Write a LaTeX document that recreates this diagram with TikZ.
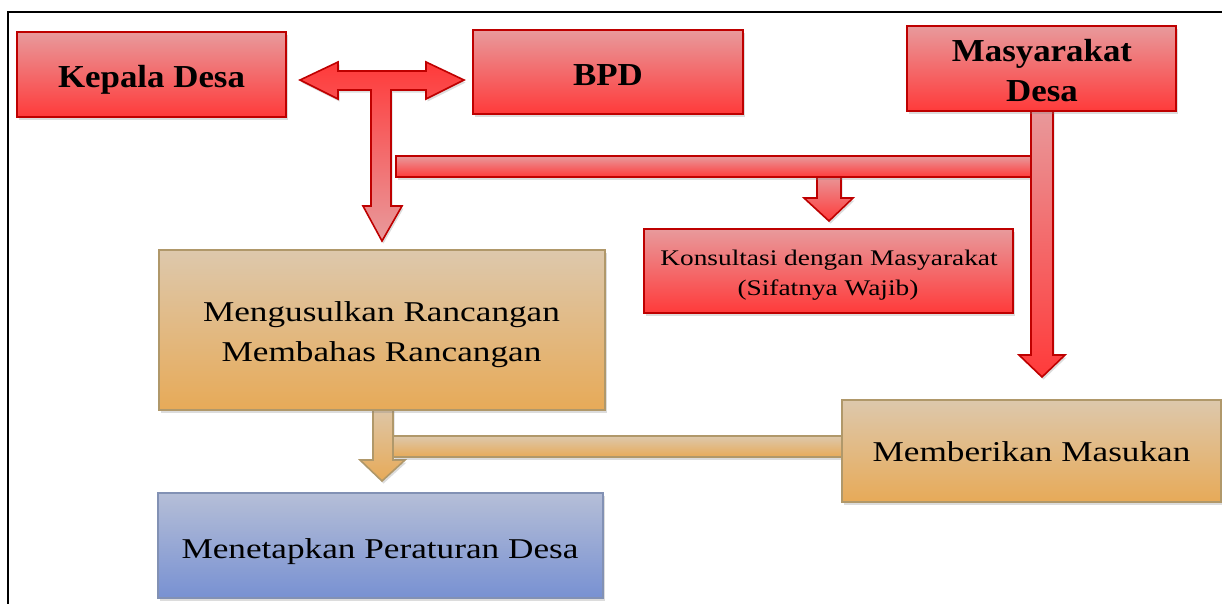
\documentclass[tikz,border=0pt]{standalone}
\usepackage{fontspec}
\setmainfont{Liberation Serif}[FakeStretch=1.227]
\newfontfamily\hdfont{Liberation Serif}[FakeStretch=1.09]
\usetikzlibrary{shadows}
\definecolor{rtop}{RGB}{232,154,156}
\definecolor{rbot}{RGB}{255,58,58}
\definecolor{rline}{RGB}{190,0,0}
\definecolor{ttop}{RGB}{221,200,172}
\definecolor{tbot}{RGB}{231,170,88}
\definecolor{tline}{RGB}{176,152,106}
\definecolor{btop}{RGB}{181,190,215}
\definecolor{bbot}{RGB}{120,145,210}
\definecolor{bline}{RGB}{130,145,180}
\begin{document}
\begin{tikzpicture}[x=1pt,y=-1pt,
 shad/.style={drop shadow={opacity=0.28,shadow xshift=1.5pt,shadow yshift=-2.5pt}},
 boxbase/.style={line width=1.6pt,shad,inner sep=0pt},
 redbox/.style={boxbase,draw=rline,top color=rtop,bottom color=rbot},
 tanbox/.style={boxbase,draw=tline,top color=ttop,bottom color=tbot},
 bluebox/.style={boxbase,draw=bline,top color=btop,bottom color=bbot},
 txt/.style={anchor=base,inner sep=0pt},
 hd/.style={txt,font=\hdfont\bfseries\fontsize{32}{39.5}\selectfont},
 bd/.style={txt,font=\fontsize{28.7}{40}\selectfont},
 sm/.style={txt,font=\fontsize{22.3}{30}\selectfont},
 redarrow/.style={draw=rline,line width=1.6pt,line join=miter,shad},
 tanarrow/.style={draw=tline,line width=1.6pt,line join=miter,shad,top color=ttop,bottom color=tbot},
]
\useasboundingbox (0,0) rectangle (1222,603);
\begin{scope}
\clip (0,0) rectangle (1222,603);
\draw[line width=1.6pt] (8,12) rectangle (1240,640);
\end{scope}

% T-shaped double arrow (Kepala Desa <-> BPD, down)
\coordinate (tL) at (300,80);
\coordinate (tR) at (464,80);
\coordinate (tD) at (382,241);
\draw[redarrow,top color=rbot,bottom color=rtop] (tL) -- (338,62) -- (338,71) -- (426,71) -- (426,62) -- (tR) -- (426,99) -- (426,90) -- (391,90) -- (391,206) -- (402,206) -- (tD) -- (363,206) -- (371,206) -- (371,90) -- (338,90) -- (338,99) -- cycle;

% small arrow to Konsultasi
\coordinate (sD) at (829,221);
\draw[redarrow,top color=rtop,bottom color=rbot] (817,174) -- (841,174) -- (841,198) -- (853,198) -- (sD) -- (804,198) -- (817,198) -- cycle;
% horizontal red bar
\draw[redarrow,top color=rtop,bottom color=rbot] (396,156) rectangle (1031,177);
% Masyarakat arrow
\coordinate (mD) at (1042,377);
\draw[redarrow,top color=rtop,bottom color=rbot] (1031,106) -- (1053,106) -- (1053,355) -- (1065,355) -- (mD) -- (1019,355) -- (1031,355) -- cycle;

% tan arrow down
\coordinate (aD) at (382,481);
\draw[tanarrow] (373,404) -- (393,404) -- (393,460) -- (405,460) -- (aD) -- (360,460) -- (373,460) -- cycle;
% tan bar
\draw[tanarrow] (393,436) rectangle (845,457);

% boxes
\node[redbox,minimum width=269pt,minimum height=85pt] (kd) at (151.5,74.5) {};
\node[redbox,minimum width=270pt,minimum height=84pt] (bpd) at (608,72) {};
\node[redbox,minimum width=269pt,minimum height=85pt] (md) at (1041.5,68.5) {};
\node[redbox,minimum width=369pt,minimum height=84pt] (kons) at (828.5,271) {};
\node[tanbox,minimum width=446pt,minimum height=160pt] (mr) at (382,330) {};
\node[tanbox,minimum width=379pt,minimum height=102pt] (mm) at (1031.5,451) {};
\node[bluebox,minimum width=445pt,minimum height=105pt] (mp) at (380.5,545.5) {};

% texts
\node[hd] (kdt) at (151.5,87.3) {Kepala Desa};
\node[hd] (bpdt) at (608,85) {BPD};
\node[hd] (mdt1) at (1042,61.7) {Masyarakat};
\node[hd] (mdt2) at (1042,101) {Desa};
\node[sm] (kont1) at (829,265.7) {Konsultasi dengan Masyarakat};
\node[sm] (kont2) at (828,295.5) {(Sifatnya Wajib)};
\node[bd] (mrt1) at (381.5,321.7) {Mengusulkan Rancangan};
\node[bd] (mrt2) at (381.5,361.7) {Membahas Rancangan};
\node[bd] (mmt) at (1031.5,461.7) {Memberikan Masukan};
\node[bd] (mpt) at (380,558) {Menetapkan Peraturan Desa};
\end{tikzpicture}
\end{document}
